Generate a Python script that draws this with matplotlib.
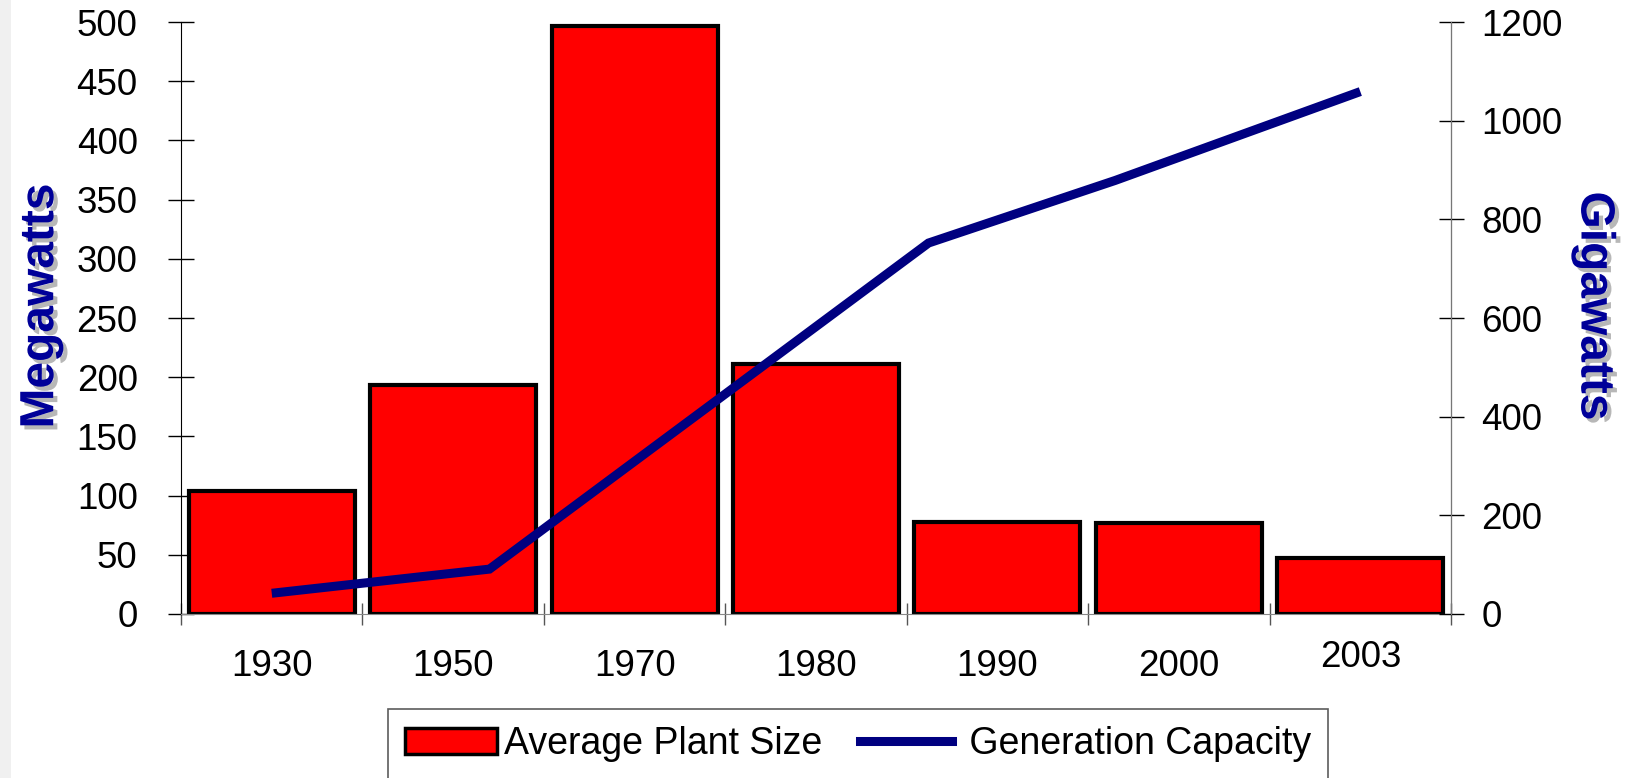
import matplotlib
matplotlib.use('Agg')
import matplotlib.pyplot as plt
import matplotlib.patheffects as pe
from matplotlib.lines import Line2D
from matplotlib.patches import Patch, Rectangle
from matplotlib.transforms import ScaledTranslation

plt.rcParams['font.family'] = ['Liberation Sans', 'DejaVu Sans']

# data
years = ['1930', '1950', '1970', '1980', '1990', '2000', '2003']
plant_size_mw = [104, 193, 497, 211, 78, 77, 47]
# capacity line vertices (x in category units, y in gigawatts)
capacity_x = [0.0, 1.2, 3.62, 4.65, 6.0]
capacity_gw = [42, 91, 752, 879, 1059]

fig = plt.figure(figsize=(16.28, 7.78), dpi=100)
fig.patches.append(Rectangle((0, 0), 0.007, 1, transform=fig.transFigure,
                             facecolor='#f0f0f0', edgecolor='none', zorder=0))

ax = fig.add_axes([0.1112, 0.2108, 0.7801, 0.7609])
ax2 = ax.twinx()

xpos = list(range(len(years)))
ax.bar(xpos, plant_size_mw, width=0.915, color='#ff0000', edgecolor='black',
       linewidth=3, zorder=2)
ax2.plot(capacity_x, capacity_gw, color='#000080', linewidth=6.5,
         solid_capstyle='butt', solid_joinstyle='miter')

ax.set_xlim(-0.5, 6.5)
ax.set_ylim(0, 500)
ax2.set_ylim(0, 1200)
ax.set_yticks(range(0, 501, 50))
ax2.set_yticks(range(0, 1201, 200))
ax.set_xticks(xpos, years)
ax.set_xticks([i - 0.5 for i in range(len(years) + 1)], minor=True)

ax.tick_params(axis='y', direction='inout', length=18.5, width=1, pad=22,
               labelsize=26.5, colors='black')
ax2.tick_params(axis='y', direction='inout', length=18, width=1, pad=13,
                labelsize=26.5, colors='black')
ax.tick_params(axis='x', which='major', length=0, pad=25, labelsize=26.5)
ax.tick_params(axis='x', which='minor', direction='inout', length=16, width=1,
               color='#555555')

for a in (ax, ax2):
    a.spines['top'].set_visible(False)
ax.spines['left'].set_color('black')
ax.spines['bottom'].set_color('#888888')
ax2.spines['left'].set_visible(False)
ax2.spines['bottom'].set_visible(False)
ax2.spines['right'].set_color('#777777')

# 2003 label sits a bit higher in the original
last = ax.xaxis.get_major_ticks()[-1].label1
last.set_transform(last.get_transform() + ScaledTranslation(0, 9 / 100, fig.dpi_scale_trans))

shadow = [pe.SimplePatchShadow(offset=(3, -3), shadow_rgbFace='#999999', alpha=0.7),
          pe.Normal()]
fig.text(0.025, 1 - 306 / 778, 'Megawatts', rotation=90, ha='center', va='center',
         fontsize=34.5, fontweight='bold', color='#000099', path_effects=shadow)
fig.text(1594 / 1628, 1 - 306 / 778, 'Gigawatts', rotation=270, ha='center', va='center',
         fontsize=34.5, fontweight='bold', color='#000099', path_effects=shadow)

handles = [Patch(facecolor='#ff0000', edgecolor='black', linewidth=2.5),
           Line2D([0], [0], color='#000080', linewidth=6.5)]
leg = fig.legend(handles, ['Average Plant Size', ' Generation Capacity'],
                 loc='upper left', bbox_to_anchor=(388 / 1628, 1 - 709 / 778),
                 ncol=2, fontsize=27, frameon=True, fancybox=False,
                 handlelength=2.45, handletextpad=0.2, columnspacing=1.0,
                 borderpad=0.45, borderaxespad=0)
leg.get_frame().set_edgecolor('#333333')
leg.get_frame().set_linewidth(1.2)

fig.savefig('out.png', dpi=100)
